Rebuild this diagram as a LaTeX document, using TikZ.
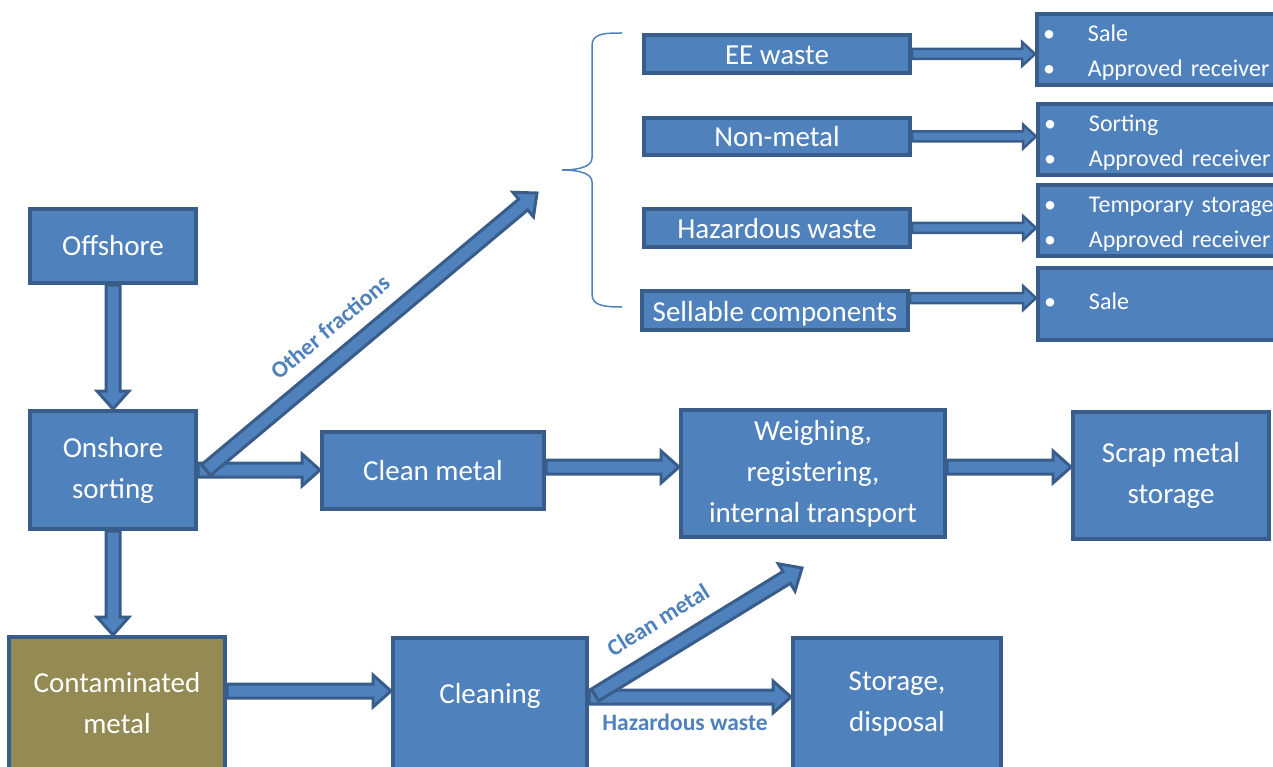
\documentclass[tikz,border=0pt]{standalone}
\usepackage{fontspec}
\setmainfont{Carlito}
\usetikzlibrary{calc}
\definecolor{bfill}{HTML}{4F81BD}
\definecolor{bdraw}{HTML}{385D8A}
\definecolor{oliv}{HTML}{948A54}
% #1 style, #2 start, #3 end, #4 half shaft, #5 half head, #6 head length
\newcommand\blockarrow[6]{%
  \path (#2) coordinate (bas) (#3) coordinate (bae);
  \coordinate (bam) at ($(bae)!#6!(bas)$);
  \draw[#1] ($(bas)!#4!90:(bae)$) -- ($(bam)!#4!-90:(bas)$) -- ($(bam)!#5!-90:(bas)$)
    -- (bae) -- ($(bam)!#5!90:(bas)$) -- ($(bam)!#4!90:(bas)$) -- ($(bas)!#4!-90:(bae)$) -- cycle;
}
\begin{document}
\begin{tikzpicture}[x=1pt,y=-1pt,
  box/.style={draw=bdraw, fill=bfill, line width=4pt, text=white, align=center,
    inner sep=0pt, font=\fontsize{29}{41}\selectfont},
  fracbox/.style={box, minimum width=266pt, text height=21pt, text depth=0pt},
  listbox/.style={draw=bdraw, fill=bfill, line width=4pt, text=white, align=left,
    anchor=west, inner xsep=6pt, inner ysep=0pt, text width=262pt,
    font=\fontsize{24}{35}\selectfont},
  twoline/.style={text height=23pt},
  oneline/.style={text height=11pt},
  barr/.style={draw=bdraw, fill=bfill, line width=3pt, line join=miter},
  sarr/.style={draw=bdraw, fill=bfill, line width=2.5pt, line join=miter},
  lbl/.style={text=bfill, font=\bfseries\fontsize{23.5}{26}\selectfont, inner sep=0pt},
  brace/.style={draw=bfill, line width=1.5pt}]
\useasboundingbox (0,0) rectangle (1273,767);
\clip (0,0) rectangle (1273,767);
\newcommand\bul{\makebox[45pt][l]{•}}
% main boxes
\node[box, minimum width=166pt, minimum height=74pt] (off) at (113,246) {Offshore};
\node[box, minimum width=166pt, minimum height=118pt] (on) at (113,470) {Onshore\\sorting};
\node[box, fill=oliv, minimum width=216pt, minimum height=132pt] (cont) at (117,703) {Contaminated\\metal};
\node[box, minimum width=222pt, minimum height=77pt] (cm) at (433,470.5) {Clean metal};
\node[box, minimum width=264pt, minimum height=127pt] (weigh) at (813,473.5) {Weighing,\\registering,\\internal transport};
\node[box, minimum width=196pt, minimum height=127pt] (scrap) at (1171,475.5) {Scrap metal\\storage};
\node[box, minimum width=194pt, minimum height=131pt, text height=20pt, text depth=20pt] (clean) at (490,703.5) {Cleaning};
\node[box, minimum width=208pt, minimum height=131pt] (stor) at (897,703.5) {Storage,\\disposal};
% fraction boxes
\node[fracbox, minimum height=38pt] (ee) at (777,54) {EE waste};
\node[fracbox, minimum height=37pt] (nm) at (777,136.5) {Non-metal};
\node[fracbox, minimum height=38pt] (hw) at (777,228) {Hazardous waste};
\node[fracbox, minimum height=39pt] (sc) at (775,310.5) {Sellable components};
% list boxes
\node[listbox, twoline, minimum height=71pt] (l1) at (1035,49.5) {\bul Sale\\\bul Approved receiver};
\node[listbox, twoline, minimum height=71pt] (l2) at (1036,139.5) {\bul Sorting\\\bul Approved receiver};
\node[listbox, twoline, minimum height=71pt] (l3) at (1036,220.5) {\bul Temporary storage\\\bul Approved receiver};
\node[listbox, oneline, minimum height=72pt] (l4) at (1036,304) {\bul Sale};
% brace
\draw[brace] (622,33) .. controls (602,33) and (592,34) .. (592,46) -- (592,158)
  .. controls (592,167) and (578,170) .. (562,170)
  .. controls (578,170) and (592,173) .. (592,182) -- (592,294)
  .. controls (592,305) and (602,307) .. (622,307);
% helper coordinates
\coordinate (row1) at (0,467);
\coordinate (row2) at (0,691);
\coordinate (row3) at (0,697);
\coordinate (row4) at (0,298);
\coordinate (ofend) at (537,193);
\coordinate (cmend) at (802,568);
% main arrows
\blockarrow{barr}{off.south}{on.north}{7pt}{16pt}{18pt}
\blockarrow{barr}{on.south}{on.south |- cont.north}{7pt}{16pt}{18pt}
\blockarrow{barr}{on.east}{on.east -| cm.west}{7pt}{16pt}{18pt}
\blockarrow{barr}{cm.east |- row1}{weigh.west |- row1}{7pt}{16pt}{18pt}
\blockarrow{barr}{weigh.east |- row1}{scrap.west |- row1}{7pt}{16pt}{18pt}
\blockarrow{barr}{cont.east |- row2}{clean.west |- row2}{7pt}{16pt}{18pt}
\blockarrow{barr}{clean.east |- row3}{stor.west |- row3}{7pt}{16pt}{18pt}
\blockarrow{barr}{$(on.east)+(8,0)$}{ofend}{7pt}{16pt}{18pt}
\blockarrow{barr}{$(clean.east |- row3)+(6,-2)$}{cmend}{7pt}{16pt}{18pt}
% small arrows
\blockarrow{sarr}{ee.east}{l1.west |- ee.east}{5pt}{12pt}{13pt}
\blockarrow{sarr}{nm.east}{l2.west |- nm.east}{5pt}{12pt}{13pt}
\blockarrow{sarr}{hw.east}{l3.west |- hw.east}{5pt}{12pt}{13pt}
\blockarrow{sarr}{sc.east |- row4}{l4.west |- row4}{5pt}{12pt}{13pt}
% labels
\node[lbl, rotate=40] (lof) at (330,327) {Other fractions};
\node[lbl, rotate=32] (lcm) at (658,620) {Clean metal};
\node[lbl] (lhw) at (685,722) {Hazardous waste};
\end{tikzpicture}
\end{document}
